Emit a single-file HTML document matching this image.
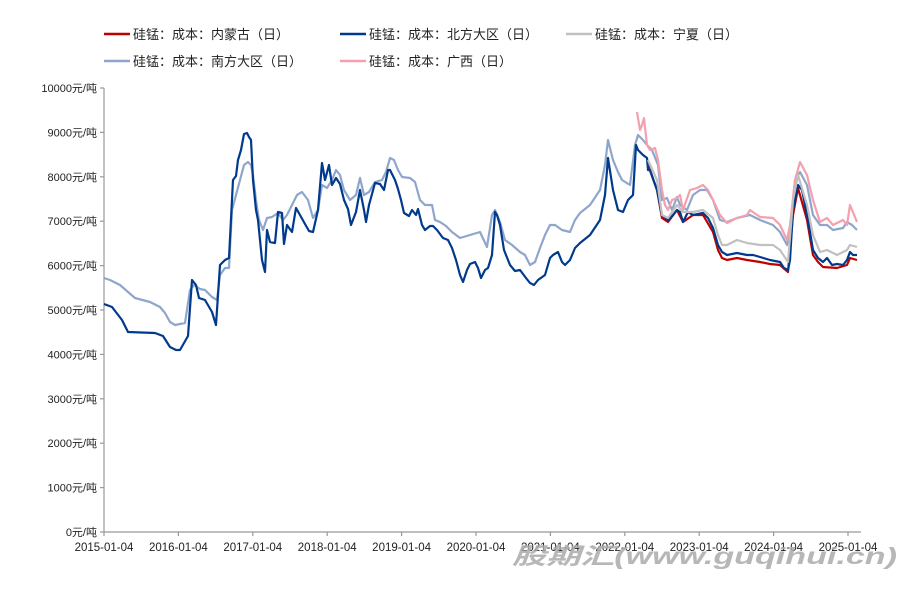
<!DOCTYPE html>
<html><head><meta charset="utf-8"><style>
body{margin:0;background:#fff;width:912px;height:587px;overflow:hidden}
svg{font-family:"Liberation Sans","Noto Sans CJK SC",sans-serif}
</style></head><body>
<svg width="912" height="587" viewBox="0 0 912 587" xmlns="http://www.w3.org/2000/svg">
<g font-size="13" fill="#222">
<line x1="104" y1="34" x2="130" y2="34" stroke="#c00000" stroke-width="2.5"/><text x="133" y="39">硅锰：成本：内蒙古（日）</text>
<line x1="340" y1="34" x2="366" y2="34" stroke="#003a8c" stroke-width="2.5"/><text x="369" y="39">硅锰：成本：北方大区（日）</text>
<line x1="566" y1="34" x2="592" y2="34" stroke="#c0c0c0" stroke-width="2.5"/><text x="595" y="39">硅锰：成本：宁夏（日）</text>
<line x1="104" y1="61" x2="130" y2="61" stroke="#8fa6cc" stroke-width="2.5"/><text x="133" y="66">硅锰：成本：南方大区（日）</text>
<line x1="340" y1="61" x2="366" y2="61" stroke="#f4a0ad" stroke-width="2.5"/><text x="369" y="66">硅锰：成本：广西（日）</text>
</g>
<g stroke="#999" stroke-width="1.2">
<line x1="104" y1="88" x2="104" y2="532"/><line x1="104" y1="532" x2="861" y2="532"/>
<line x1="100" y1="532" x2="104" y2="532"/><line x1="100" y1="487.6" x2="104" y2="487.6"/><line x1="100" y1="443.2" x2="104" y2="443.2"/><line x1="100" y1="398.8" x2="104" y2="398.8"/><line x1="100" y1="354.4" x2="104" y2="354.4"/><line x1="100" y1="310" x2="104" y2="310"/><line x1="100" y1="265.6" x2="104" y2="265.6"/><line x1="100" y1="221.2" x2="104" y2="221.2"/><line x1="100" y1="176.8" x2="104" y2="176.8"/><line x1="100" y1="132.4" x2="104" y2="132.4"/><line x1="100" y1="88" x2="104" y2="88"/>
<line x1="104" y1="532" x2="104" y2="536"/><line x1="178.4" y1="532" x2="178.4" y2="536"/><line x1="252.8" y1="532" x2="252.8" y2="536"/><line x1="327.2" y1="532" x2="327.2" y2="536"/><line x1="401.6" y1="532" x2="401.6" y2="536"/><line x1="476" y1="532" x2="476" y2="536"/><line x1="550.4" y1="532" x2="550.4" y2="536"/><line x1="624.8" y1="532" x2="624.8" y2="536"/><line x1="699.2" y1="532" x2="699.2" y2="536"/><line x1="773.6" y1="532" x2="773.6" y2="536"/><line x1="848" y1="532" x2="848" y2="536"/>
</g>
<g font-size="11" fill="#222" text-anchor="end">
<text x="97" y="536">0元/吨</text><text x="97" y="491.6">1000元/吨</text><text x="97" y="447.2">2000元/吨</text><text x="97" y="402.8">3000元/吨</text><text x="97" y="358.4">4000元/吨</text><text x="97" y="314">5000元/吨</text><text x="97" y="269.6">6000元/吨</text><text x="97" y="225.2">7000元/吨</text><text x="97" y="180.8">8000元/吨</text><text x="97" y="136.4">9000元/吨</text><text x="97" y="92">10000元/吨</text>
</g>
<g font-size="11.5" fill="#222" text-anchor="middle">
<text x="104" y="551">2015-01-04</text><text x="178.4" y="551">2016-01-04</text><text x="252.8" y="551">2017-01-04</text><text x="327.2" y="551">2018-01-04</text><text x="401.6" y="551">2019-01-04</text><text x="476" y="551">2020-01-04</text><text x="550.4" y="551">2021-01-04</text><text x="624.8" y="551">2022-01-04</text><text x="699.2" y="551">2023-01-04</text><text x="773.6" y="551">2024-01-04</text><text x="848" y="551">2025-01-04</text>
</g>
<g fill="none" stroke-width="2.2" stroke-linejoin="round">
<polyline stroke="#8fa6cc" points="104,278 110,280 120,285 128,292 135,298 150,302 160,307 165,313 170,322 175,325 185,323 190,290 194,285 200,289 205,290 212,297 217,300 220,275 225,268 229,268 232,210 236,195 240,180 244,165 248,162 251,165 253,175 256,200 259,220 263,230 267,218 272,217 278,213 283,220 287,215 292,205 297,195 302,192 308,200 313,218 318,210 322,185 327,188 332,180 336,170 340,175 344,190 350,200 356,195 360,178 364,195 369,192 375,182 382,180 386,172 390,158 394,160 398,170 402,177 410,178 415,182 420,200 425,205 432,205 435,220 440,222 446,226 452,232 460,238 470,235 480,232 487,247 492,215 495,210 500,222 505,240 512,245 520,252 525,255 530,265 535,262 540,248 545,235 550,225 555,225 562,230 570,232 575,220 580,213 590,205 600,190 605,165 608,140 613,160 618,172 622,180 630,185 635,145 638,135 643,140 647,145 652,150 658,165 662,200 667,198 672,210 677,197 680,205 687,210 693,195 700,190 707,190 713,200 720,220 727,222 737,218 750,215 760,220 773,225 780,232 787,245 790,230 795,180 800,172 807,185 813,215 820,225 827,225 833,230 843,228 847,222 852,225 857,230"/>
<polyline stroke="#f4a0ad" points="637,112 640,130 642,125 644,118 647,145 650,150 655,148 658,160 662,190 665,205 668,210 672,200 677,198 680,195 683,210 690,190 697,188 703,185 708,190 713,200 720,215 727,223 737,218 747,215 750,210 760,217 773,218 780,225 787,240 790,225 795,180 800,162 807,175 813,200 820,222 827,218 833,225 843,220 847,225 850,205 857,222"/>
<polyline stroke="#c00000" points="648,165 657,190 662,218 668,222 677,210 683,222 693,215 703,215 713,232 718,250 722,258 727,260 737,258 747,260 760,262 770,264 780,265 788,272 793,215 798,188 807,220 813,255 818,262 823,267 837,268 847,265 850,258 857,260"/>
<polyline stroke="#003a8c" points="104,304 112,307 122,320 128,332 155,333 163,336 170,347 176,350 180,350 188,336 192,280 196,285 199,298 205,300 212,312 216,325 220,265 225,260 229,258 233,180 236,176 238,160 241,150 244,134 247,133 249,137 251,140 253,180 256,210 258,220 262,260 265,272 267,230 270,242 275,243 278,212 282,213 284,244 287,225 292,232 296,208 300,215 305,224 309,231 313,232 318,210 322,163 325,180 329,165 332,185 336,178 340,184 344,200 348,209 351,225 356,212 360,190 364,210 366,222 369,205 375,183 380,184 384,190 388,170 390,170 395,180 398,189 401,200 404,213 409,216 412,210 416,215 418,209 422,225 425,230 430,226 433,226 437,230 443,238 448,240 452,248 456,260 460,275 463,282 467,270 470,264 475,262 478,268 481,278 485,270 488,268 492,255 495,212 497,215 500,225 504,250 510,265 515,271 520,270 526,278 530,283 534,285 538,280 545,275 550,258 553,255 558,252 562,262 565,265 570,260 575,248 580,243 590,235 600,220 605,195 608,158 613,190 618,210 623,212 628,200 633,195 636,145 638,150 643,155 647,158 648,170 650,170 657,190 662,215 668,220 673,215 677,210 680,212 683,222 688,212 693,215 703,213 708,218 713,228 718,245 722,252 727,255 737,253 747,255 753,255 760,257 770,260 780,262 784,268 788,270 790,260 793,210 798,185 802,190 807,215 810,232 813,250 818,258 823,262 827,258 832,265 837,264 843,265 847,260 850,252 853,255 857,255"/>
<polyline stroke="#c0c0c0" points="648,160 657,180 662,215 668,218 677,205 683,212 693,212 703,210 713,218 718,235 722,245 727,245 737,240 747,243 760,245 773,245 780,250 788,262 793,200 798,175 807,205 813,235 820,252 827,250 837,255 847,250 850,245 857,247"/>
</g>
<text x="512" y="564" font-size="23" font-weight="bold" font-style="italic" fill="#aaa" fill-opacity="0.85" textLength="385" lengthAdjust="spacingAndGlyphs">股期汇(www.guqihui.cn)</text>
</svg>
</body></html>
